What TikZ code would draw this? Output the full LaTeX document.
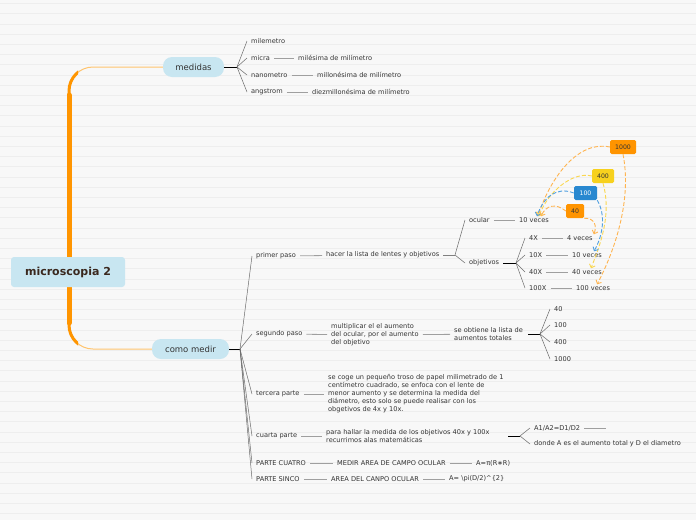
\documentclass[tikz,border=0pt]{standalone}
\usepackage{fontspec}
\setmainfont{DejaVu Sans}
\usetikzlibrary{arrows.meta}
\definecolor{paper}{RGB}{248,248,248}
\definecolor{ruled}{RGB}{238,238,238}
\definecolor{topicblue}{RGB}{200,230,241}
\definecolor{ink}{RGB}{51,51,51}
\definecolor{titleink}{RGB}{58,40,30}
\definecolor{stem}{RGB}{255,149,0}
\definecolor{stemlight}{RGB}{255,196,110}
\definecolor{tagorange}{RGB}{255,148,0}
\definecolor{tagyellow}{RGB}{247,209,30}
\definecolor{tagblue}{RGB}{40,136,208}
\definecolor{hintorange}{RGB}{255,180,80}
\definecolor{hintyellow}{RGB}{250,215,80}
\definecolor{hintblue}{RGB}{80,160,224}
\tikzset{
  leaf/.style={anchor=west,inner xsep=4pt,inner ysep=1pt,text=ink,font=\fontsize{6.6}{8}\selectfont,align=left},
  topic/.style={fill=topicblue,rounded corners=9pt,minimum height=20pt,text=ink,font=\fontsize{8.5}{10}\selectfont},
  link/.style={draw=gray!75,line width=.8pt},
  twig/.style={draw=gray!85!black,line width=.5pt},
  knot/.style={draw=black,line width=.9pt},
  tag/.style={rounded corners=1.5pt,minimum height=14pt,inner xsep=3pt,font=\fontsize{6.2}{7}\selectfont},
  hint/.style={dash pattern=on 4pt off 2pt,line width=.9pt,-{Straight Barb[length=3pt]}},
}
\begin{document}
\begin{tikzpicture}[x=1pt,y=-1pt]
\useasboundingbox (0,0) rectangle (696,520);
\fill[paper] (0,0) rectangle (696,520);
\foreach \k in {0,...,50}
  \draw[ruled,line width=.6pt] (0,{3.4+10.2*\k}) -- (696,{3.4+10.2*\k});

% topics
\node[topic,minimum width=61pt] (medidas) at (193.5,67) {medidas};
\node[topic,minimum width=77pt] (comomedir) at (190.5,349) {como medir};

% orange stem
\draw[stemlight,line width=1pt,rounded corners=24pt] (medidas.west) -| (69,200) |- (comomedir.west);
\begin{scope}
  \clip (0,0) rectangle (78,520);
  \draw[stem,line width=3pt,rounded corners=24pt] (medidas.west) -| (69,200) |- (comomedir.west);
\end{scope}
\draw[stem,line width=5pt,line cap=round] (69,95) -- (69,323);

\node[fill=topicblue,rounded corners=3pt,minimum width=114pt,minimum height=30pt,
  text=titleink,font=\fontsize{11}{13}\selectfont\bfseries] (root) at (68,272) {microscopia 2};

% medidas
\coordinate (fmed) at (237,67);
\draw[knot] (medidas.east) -- (fmed);
\node[leaf] (milemetro) at (247,41) {milemetro};
\node[leaf] (micra) at (247,58) {micra};
\node[leaf] (milesima) at (294,58) {milésima de milímetro};
\node[leaf] (nanometro) at (247,75) {nanometro};
\node[leaf] (millonesima) at (313,75) {millonésima de milímetro};
\node[leaf] (angstrom) at (247,92) {angstrom};
\node[leaf] (diezmil) at (308,92) {diezmillonésima de milímetro};
\foreach \n in {milemetro,micra,nanometro,angstrom}
  \draw[twig] (fmed) -- (\n.west);
\draw[link] (micra) -- (milesima);
\draw[link] (nanometro) -- (millonesima);
\draw[link] (angstrom) -- (diezmil);

% como medir
\coordinate (fcm) at (240,349);
\draw[knot] (comomedir.east) -- (fcm);
\node[leaf] (primer) at (252,256) {primer paso};
\node[leaf] (segundo) at (252,334) {segundo paso};
\node[leaf] (tercera) at (252,394) {tercera parte};
\node[leaf] (cuarta) at (252,436) {cuarta parte};
\node[leaf] (cuatro) at (252,463) {PARTE CUATRO};
\node[leaf] (sinco) at (252,479) {PARTE SINCO};
\foreach \n in {primer,segundo,tercera,cuarta,cuatro,sinco}
  \draw[twig] (fcm) -- (\n.west);

% primer paso
\node[leaf] (hacer) at (322,255) {hacer la lista de lentes y objetivos};
\draw[link] (primer) -- (hacer);
\coordinate (shac) at (443,255);
\coordinate (fhac) at (455,255);
\draw[knot,draw=gray] (shac) -- (fhac);
\node[leaf] (ocular) at (465,220) {ocular};
\node[leaf] (objetivos) at (465,263) {objetivos};
\foreach \n in {ocular,objetivos}
  \draw[twig] (fhac) -- (\n.west);
\node[leaf] (oc10) at (515,220) {10 veces};
\draw[link] (ocular) -- (oc10);
\coordinate (sobj) at (503,263);
\coordinate (fobj) at (516,263);
\draw[knot] (sobj) -- (fobj);
\foreach \n/\t/\y/\c/\v in {x4/4X/238/563/4,x10/10X/255/568/10,x40/40X/272/568/40,x100/100X/288/572/100}{
  \node[leaf] (\n) at (525,\y) {\t};
  \node[leaf] (c\v) at (\c,\y) {\v\ veces};
  \draw[twig] (fobj) -- (\n.west);
  \draw[link] (\n) -- (c\v);
}

% segundo paso
\node[leaf] (multi) at (327,335) {multiplicar el el aumento\\del ocular, por el aumento\\del objetivo};
\draw[link] (segundo) -- (multi);
\node[leaf] (obtiene) at (450,334) {se obtiene la lista de\\aumentos totales};
\draw[link] (multi) -- (obtiene);
\coordinate (sobt) at (528,334);
\coordinate (fobt) at (540,334);
\draw[knot] (sobt) -- (fobt);
\foreach \v/\y in {40/309,100/325,400/342,1000/359}{
  \node[leaf] (t\v) at (550,\y) {\v};
  \draw[twig] (fobt) -- (t\v.west);
}

% tercera parte
\node[leaf] (papel) at (324,394) {se coge un pequeño troso de papel milimetrado de 1\\centímetro cuadrado, se enfoca con el lente de\\menor aumento y se determina la medida del\\diámetro, esto solo se puede realisar con los\\obgetivos de 4x y 10x.};
\draw[link] (tercera) -- (papel);

% cuarta parte
\node[leaf] (hallar) at (322,436) {para hallar la medida de los objetivos 40x y 100x\\recurrimos alas matemáticas};
\draw[link] (cuarta) -- (hallar);
\coordinate (shal) at (508,436);
\coordinate (fhal) at (520,436);
\draw[knot] (shal) -- (fhal);
\node[leaf] (razon) at (530,428) {A1/A2=D1/D2};
\node[leaf] (donde) at (530,444) {donde A es el aumento total y D el diametro};
\foreach \n in {razon,donde}
  \draw[twig] (fhal) -- (\n.west);
\coordinate (razonend) at (606,428);
\draw[link] (razon) -- (razonend);

% partes cuatro y sinco
\node[leaf] (medir) at (333,463) {MEDIR AREA DE CAMPO OCULAR};
\node[leaf] (formula1) at (472,463) {A=π(R∗R)};
\draw[link] (cuatro) -- (medir);
\draw[link] (medir) -- (formula1);
\node[leaf] (area) at (327,479) {AREA DEL CANPO OCULAR};
\node[leaf] (formula2) at (445,479) {A= \textbackslash pi(D/2)\^{}\{2\}};
\draw[link] (sinco) -- (area);
\draw[link] (area) -- (formula2);

% tags
\node[tag,fill=tagorange,text=ink,minimum width=26pt] (b1000) at (623,147) {1000};
\node[tag,fill=tagyellow,text=ink,minimum width=22pt] (b400) at (603,176) {400};
\node[tag,fill=tagblue,text=white,minimum width=23pt] (b100) at (585.5,193) {100};
\node[tag,fill=tagorange,text=ink,minimum width=18pt] (b40) at (575,211) {40};

\draw[hint,hintorange] (b1000.west) .. controls (578,140) and (550,178) .. ([xshift=4pt]oc10.north);
\draw[hint,hintorange] (b1000.south) .. controls (632,200) and (615,250) .. ([xshift=4pt]c100.north);
\draw[hint,hintyellow] (b400.west) .. controls (572,171) and (547,193) .. ([xshift=5pt]oc10.north);
\draw[hint,hintyellow] (b400.south) .. controls (612,215) and (600,245) .. ([xshift=4pt]c40.north);
\draw[hint,hintblue] (b100.west) .. controls (556,186) and (543,198) .. ([xshift=3pt]oc10.north);
\draw[hint,hintblue] (b100.south east) .. controls (606,215) and (603,235) .. ([xshift=7pt]c10.north);
\draw[hint,hintorange] (b40.west) .. controls (556,203) and (546,205) .. ([xshift=7pt]oc10.north);
\draw[hint,hintorange] (b40.south east) .. controls (595,218) and (597,226) .. ([xshift=-3pt]c4.north east);
\end{tikzpicture}
\end{document}
